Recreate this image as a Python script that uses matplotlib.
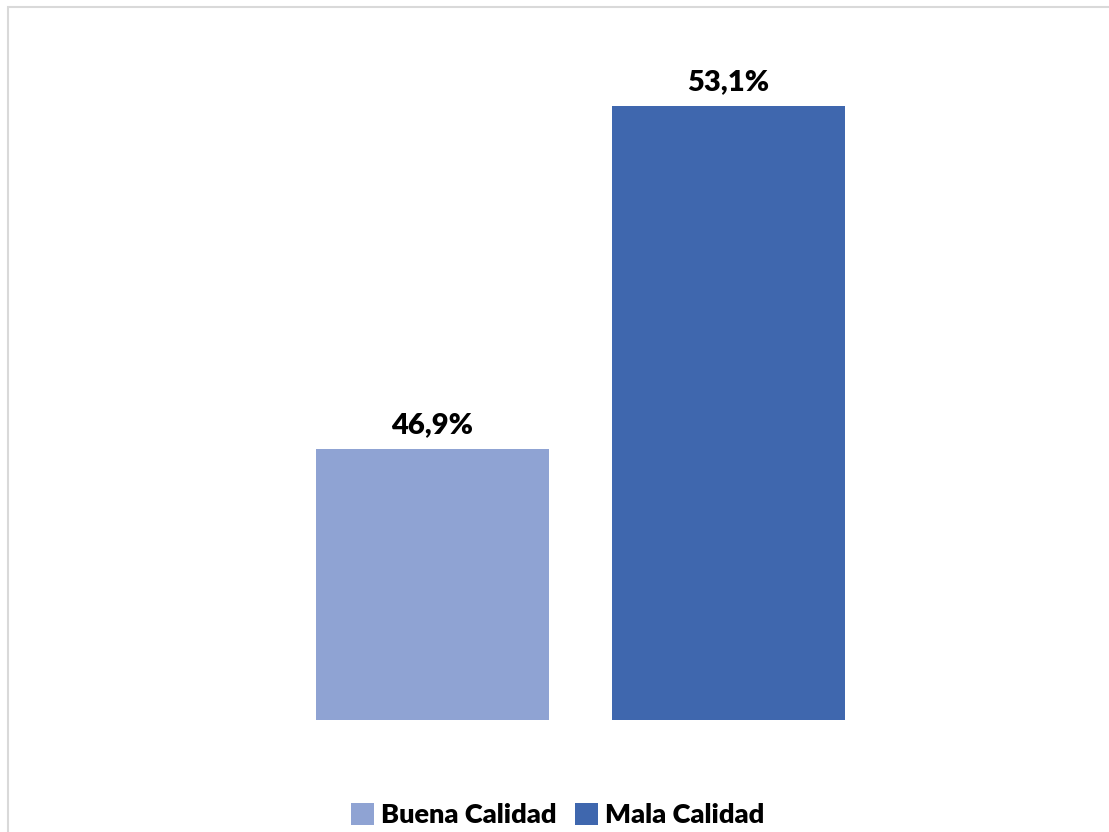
import matplotlib.pyplot as plt
from matplotlib.patches import Rectangle, Patch

categories = ['Buena Calidad', 'Mala Calidad']
values = [46.9, 53.1]
value_labels = ['46,9%', '53,1%']
colors = ['#8FA3D3', '#3F67AE']

plt.rcParams['font.family'] = ['Lato', 'DejaVu Sans']

fig = plt.figure(figsize=(11.09, 8.32), dpi=100)
ax = fig.add_axes([0.2565, 0.1346, 0.5338, 0.798])

positions = list(range(len(categories)))
bars = ax.bar(positions, values, width=0.787, color=colors, bottom=0)
ax.set_xlim(-0.5, 1.5)
ax.set_ylim(42, 54)

for bar, label in zip(bars, value_labels):
    ax.annotate(label, (bar.get_x() + bar.get_width() / 2, bar.get_height()),
                xytext=(0, 8), textcoords='offset points',
                ha='center', va='bottom', fontsize=21, fontweight='heavy', color='black')

ax.axis('off')

# light gray chart border, cut at the right and bottom like the original
fig.add_artist(Rectangle((8 / 1109, -0.1), 1.2, (832 - 7) / 832 + 0.1,
                         transform=fig.transFigure, fill=False,
                         edgecolor='#D9D9D9', linewidth=1.5))

handles = [Patch(facecolor=c, edgecolor='none') for c in colors]
fig.legend(handles, categories, loc='center', bbox_to_anchor=(0.503, 0.02),
           ncol=2, frameon=False, handlelength=0.85, handleheight=0.85,
           handletextpad=0.25, columnspacing=0.7,
           prop={'size': 19.5, 'weight': 'heavy'})

fig.savefig('out.png', dpi=100)
